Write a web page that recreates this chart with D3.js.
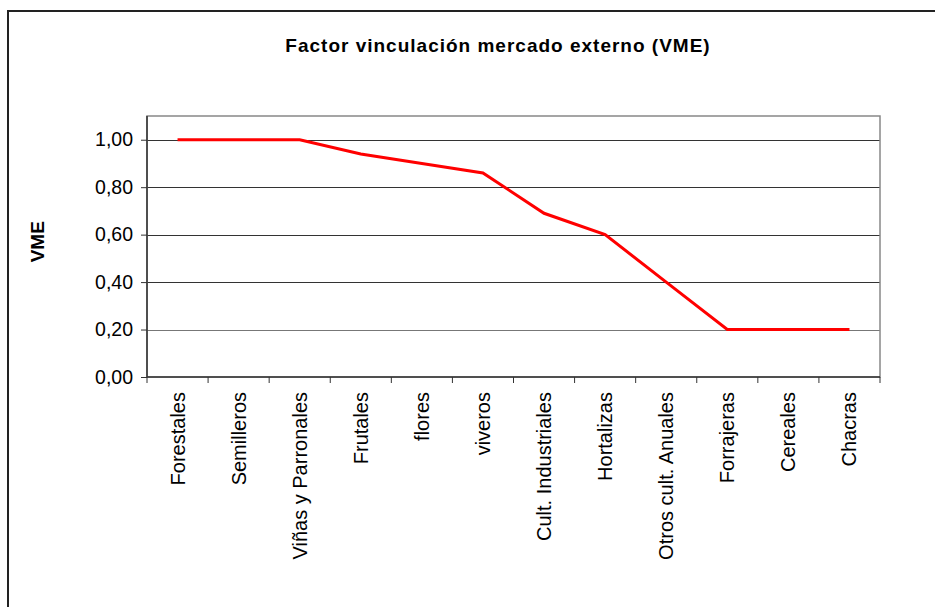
<!DOCTYPE html>
<html>
<head>
<meta charset="utf-8">
<script src="https://cdn.jsdelivr.net/npm/d3@7"></script>
<style>
body{margin:0;background:#fff;}
text{font-family:"Liberation Sans",Arial,sans-serif;fill:#000;}
</style>
</head>
<body>
<div id="chart"></div>
<script>
var categories=["Forestales","Semilleros","Viñas y Parronales","Frutales","flores","viveros",
	"Cult. Industriales","Hortalizas","Otros cult. Anuales","Forrajeras","Cereales","Chacras"];
var vme=[1.00,1.00,1.00,0.94,0.90,0.86,0.69,0.60,0.40,0.20,0.20,0.20];
var yTicks=[0,0.2,0.4,0.6,0.8,1.0];

var W=935,H=607;
var padL=147,padR=880,padT=116,padB=377;

var svg=d3.select("#chart").append("svg").attr("width",W).attr("height",H);

// outer chart frame (runs off the right/bottom of the picture)
svg.append("rect")
	.attr("x",8).attr("y",11).attr("width",W+20).attr("height",H+20)
	.attr("fill","none").attr("stroke","#222").attr("stroke-width",2);

var x=d3.scaleBand().domain(categories).range([padL,padR]);
var y=d3.scaleLinear().domain([0,1.1]).range([padB,padT]);

// gridlines
svg.append("g").selectAll("line")
	.data(yTicks.slice(1))
	.enter().append("line")
	.attr("x1",padL).attr("x2",padR)
	.attr("y1",function(d){return Math.round(y(d))+0.5;})
	.attr("y2",function(d){return Math.round(y(d))+0.5;})
	.attr("stroke",function(d){return d==0.2?"#777":"#333";})
	.attr("stroke-width",1);

// plot frame
svg.append("rect")
	.attr("x",padL).attr("y",padT).attr("width",padR-padL).attr("height",padB-padT)
	.attr("fill","none").attr("stroke","#888").attr("stroke-width",1.5);

//***************************
//AXES
//***************************
var yAxis=d3.axisLeft(y).tickValues(yTicks).tickSize(6).tickPadding(8)
	.tickFormat(function(d){return d3.format(".2f")(d).replace(".",",");});
var gy=svg.append("g").attr("transform","translate("+padL+",0)").call(yAxis);
gy.select(".domain").attr("stroke","#333").attr("stroke-width",1.5)
	.attr("d","M0,"+padT+"V"+padB);
gy.selectAll(".tick line").attr("stroke","#333");
gy.selectAll("text").style("font-size","19.5px").attr("fill","#000");

var xAxis=d3.axisBottom(x).tickSize(0).tickPadding(0);
var gx=svg.append("g").attr("transform","translate(0,"+padB+")").call(xAxis);
gx.select(".domain").attr("stroke","#333").attr("stroke-width",1.5)
	.attr("d","M"+padL+",0H"+padR);
gx.selectAll("text")
	.style("font-size","20px").attr("fill","#000")
	.attr("text-anchor","end")
	.attr("transform","rotate(-90)")
	.attr("x",-15).attr("y",0).attr("dy","0.35em");

// ticks between categories
var bounds=categories.map(function(c){return x(c);}).concat([padR]);
gx.selectAll(".sep").data(bounds).enter().append("line")
	.attr("class","sep")
	.attr("x1",function(d){return d;}).attr("x2",function(d){return d;})
	.attr("y1",0).attr("y2",6)
	.attr("stroke","#333").attr("stroke-width",1);

//***************************
//LINE
//***************************
var line=d3.line()
	.x(function(d,i){return x(categories[i])+x.bandwidth()/2;})
	.y(function(d){return y(d);});
svg.append("path")
	.datum(vme)
	.attr("d",line)
	.attr("fill","none").attr("stroke","#ff0000").attr("stroke-width",3);

//***************************
//LABELS
//***************************
svg.append("text")
	.attr("x",498).attr("y",52)
	.attr("text-anchor","middle")
	.style("font-size","19px").style("font-weight","bold").style("letter-spacing","1px")
	.text("Factor vinculación mercado externo (VME)");

svg.append("text")
	.attr("transform","translate(44,"+(y(0.57))+") rotate(-90)")
	.attr("text-anchor","middle")
	.style("font-size","19px").style("font-weight","bold")
	.text("VME");
</script>
</body>
</html>
